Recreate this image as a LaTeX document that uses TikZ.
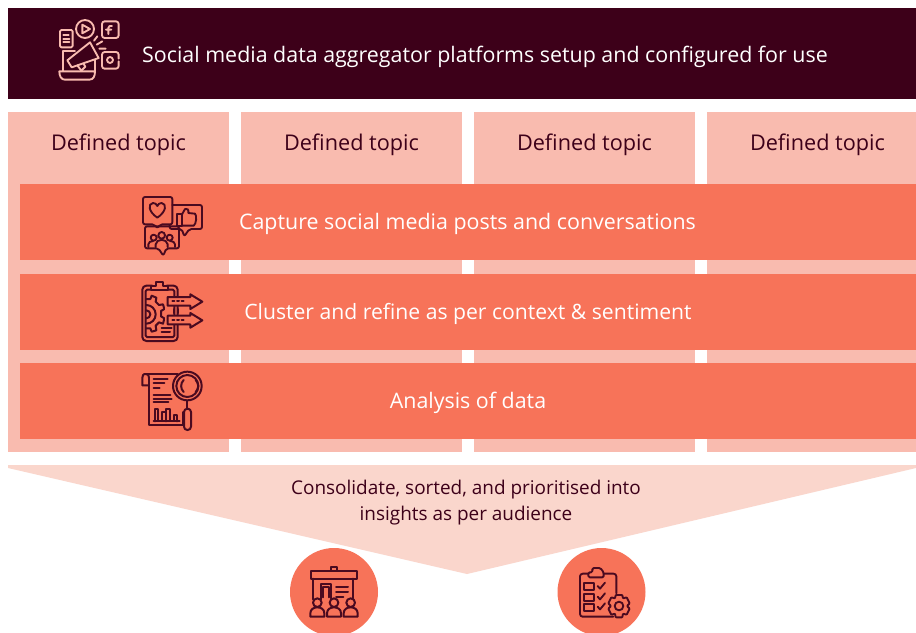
\documentclass[tikz,border=0pt]{standalone}
\usepackage{fontspec}
\setmainfont{Open Sans}
\definecolor{dark}{HTML}{3D0019}
\definecolor{col}{HTML}{F9BBAF}
\definecolor{band}{HTML}{F77359}
\definecolor{pale}{HTML}{FAD6CC}
\definecolor{ink}{HTML}{4A0A20}
\definecolor{peach}{HTML}{F9BBAF}
\tikzset{
 px/.style={x=0.75pt,y=-0.75pt},
 lbl/.style={font=\fontsize{16.25pt}{19pt}\selectfont,inner sep=0pt,anchor=base,text=dark},
 toplbl/.style={font=\fontsize{16.05pt}{19pt}\selectfont,inner sep=0pt,anchor=base,text=white},
 botlbl/.style={font=\fontsize{14.2pt}{19.5pt}\selectfont,inner sep=0pt,align=center,text=dark},
 icon/.style={x=0.25pt,y=-0.25pt,line width=1.4pt,line join=round,line cap=round,draw=ink},
 iconup/.style={icon,draw=peach},
}
\begin{document}
\begin{tikzpicture}[px]
\useasboundingbox (0,0) rectangle (916,632);
\fill[white] (0,0) rectangle (916,632);
\fill[dark] (8,8) rectangle (916,99);
\foreach \a/\b in {8/229,241/462,474/695,707/916}{\fill[col] (\a,112) rectangle (\b,452);}
\foreach \a/\b in {184/260,274/350,363/439}{\fill[band] (20,\a) rectangle (916,\b);}
\fill[pale] (8,465) -- (916,465) -- (916,468) -- (467,574) -- (8,468) -- cycle;
\fill[band] (334,592) circle (44);
\fill[band] (601.5,592) circle (44);
\node[toplbl] (title) at (485,62) {Social media data aggregator platforms setup and configured for use};
\node[lbl] (t1) at (118.5,150) {Defined topic};
\node[lbl] (t2) at (351.5,150) {Defined topic};
\node[lbl] (t3) at (584.5,150) {Defined topic};
\node[lbl] (t4) at (817.5,150) {Defined topic};
\node[toplbl] (b1) at (467.5,229) {Capture social media posts and conversations};
\node[toplbl,font=\fontsize{15.87pt}{19pt}\selectfont] (b2) at (468,319) {Cluster and refine as per context \& sentiment};
\node[toplbl] (b3) at (468,408) {Analysis of data};
\node[botlbl] (cons) at (466,503) {Consolidate, sorted, and prioritised into\\insights as per audience};
% megaphone icon
\begin{scope}[shift={(40,8)},iconup]
\draw[rounded corners=1pt] (60,66) rectangle (98,118);
\draw (70,82)--(86,82) (70,92)--(88,92) (70,102)--(88,102);
\draw (135,63) circle (27);
\draw (127,50)--(150,63)--(127,76)--cycle;
\draw[rounded corners=2pt] (186,40) rectangle (236,90);
\draw (205,78)--(205,60) .. controls (205,54) and (210,53) .. (216,54) (198,65)--(214,65);
\draw[rounded corners=2pt] (236,160)--(236,182)--(186,182)--(186,132)--(236,132)--(236,152);
\draw (210,156) circle (9);
\draw (162,98)--(172,85) (170,110)--(187,100) (178,122)--(197,122);
\draw (105,130)--(70,130)--(70,188) (165,150)--(165,188);
\draw (58,190)--(165,190) .. controls (165,205) and (160,215) .. (148,215)--(75,215) .. controls (64,215) and (58,205) .. (58,190)--cycle;
\draw[fill=dark] (150,103)--(82,157)--(95,178)--(176,150)--cycle;
\draw (112,172)--(124,188)--(136,176)--(130,166);
\end{scope}
% social bubbles
\begin{scope}[shift={(125,185)},icon]
\draw[rounded corners=1.5pt] (54,36)--(142,36)--(142,118)--(106,118)--(97,130)--(88,118)--(54,118)--cycle;
\draw (97,98) .. controls (70,80) and (68,56) .. (84,54) .. controls (90,54) and (95,57) .. (97,63) .. controls (99,57) and (104,54) .. (110,54) .. controls (126,56) and (124,80) .. (97,98)--cycle;
\draw[rounded corners=1.5pt] (142,60)--(231,60)--(231,132)--(193,132)--(178,154)--(170,132)--(134,132)--(134,120);
\draw (155,88) rectangle (170,124);
\draw (170,90) -- (180,72) .. controls (186,68) and (192,74) .. (190,84) -- (210,86) .. controls (216,90) and (214,118) .. (206,122) -- (170,122);
\draw[rounded corners=1.5pt] (60,124)--(162,124)--(162,190)--(124,190)--(115,212)--(100,190)--(60,190)--cycle;
\draw (110,151) circle (10) (86,158) circle (9) (134,158) circle (9);
\draw (92,186)--(92,178) .. controls (94,160) and (126,160) .. (128,178)--(128,186);
\draw (70,186)--(70,178) .. controls (71,172) and (76,168) .. (84,168);
\draw (150,186)--(150,178) .. controls (149,172) and (144,168) .. (136,168);
\end{scope}
% clipboard arrows
\begin{scope}[shift={(125,275)},icon,line width=1.5pt]
\draw[rounded corners=3pt] (125,32)--(158,32)--(158,198)--(52,198)--(52,32)--(82,32);
\draw[rounded corners=1pt] (62,44)--(148,44)--(148,186)--(62,186)--cycle;
\draw[fill=band] (78,44)--(78,34)--(92,34)--(92,22)--(114,22)--(114,34)--(128,34)--(128,44)--cycle;
\draw (64,72)--(76,72)--(80,62)--(94,68)--(92,80)--(102,90)--(114,88)--(118,102)--(108,108)--(108,124)--(118,130)--(114,146)--(102,142)--(92,152)--(94,166)--(80,170)--(76,160)--(64,160);
\draw (64,90) arc (-90:90:28);
\draw (64,106) arc (-90:90:12);
\draw[fill=band,draw=band] (122,62) rectangle (130,155);
\draw[fill=band] (128,66)--(196,66)--(196,58)--(232,80)--(196,102)--(196,92)--(128,92)--cycle;
\draw[fill=band] (128,122)--(196,122)--(196,114)--(232,136)--(196,158)--(196,148)--(128,148)--cycle;
\foreach \y in {79,135}{\draw (142,\y)--(148,\y) (156,\y)--(162,\y) (170,\y)--(176,\y);}
\draw (148,102)--(148,114) (158,102)--(158,114);
\draw (110,158)--(140,158) (110,172)--(135,172);
\end{scope}
% report magnifier
\begin{scope}[shift={(125,362)},icon,line width=1.5pt]
\draw (64,36) .. controls (54,34) and (52,42) .. (52,48)--(52,70)--(72,70);
\draw (64,36) .. controls (70,36) and (72,42) .. (72,48);
\draw (64,36)--(158,36);
\draw (72,48)--(72,190)--(175,190)--(175,150);
\draw (86,52)--(128,52) (86,64)--(118,64) (86,78)--(104,78) (86,100)--(136,100) (86,110)--(140,110) (86,120)--(130,120);
\draw (90,178)--(90,140)--(100,140)--(100,178)--(112,178)--(112,150)--(122,150) (122,178)--(122,142)--(134,142)--(134,178)--(146,178)--(146,158)--(156,158)--(156,178) (86,178)--(164,178);
\draw[fill=band] (187,72) circle (43);
\draw (187,72) circle (33);
\draw (176,54) .. controls (166,64) and (166,80) .. (176,90);
\draw (212,54) .. controls (222,64) and (222,80) .. (212,90);
\draw (187,115)--(187,140);
\draw[rounded corners=2.5pt,fill=band] (177,140) rectangle (198,204);
\end{scope}
% building people
\begin{scope}[shift={(280,540)},icon,line width=1.5pt]
\draw (152,92)--(152,80)--(172,80)--(172,92);
\draw (93,94) rectangle (230,116);
\draw (100,116)--(100,178) (220,116)--(220,175);
\draw (122,178)--(122,132)--(154,132)--(154,175) (130,172)--(130,140)--(146,140)--(146,172);
\draw (168,142)--(204,142) (168,156)--(204,156) (168,170)--(190,170);
\foreach \c in {112,162,212}{
 \draw[fill=band] (\c,188) circle (13);
 \draw[fill=band] (\c-21,230)--(\c-21,220) .. controls (\c-21,207) and (\c-10,202) .. (\c,202) .. controls (\c+10,202) and (\c+21,207) .. (\c+21,220)--(\c+21,230)--cycle;
}
\end{scope}
% checklist gear
\begin{scope}[shift={(545,540)},icon,line width=1.4pt]
\draw[rounded corners=2pt] (130,101)--(105,101)--(105,230)--(205,230);
\draw[rounded corners=2pt] (176,101)--(214,101)--(214,160);
\draw[rounded corners=1pt] (130,112)--(130,97)--(142,97)--(142,84)--(166,84)--(176,97)--(176,112)--cycle;
\draw (118,130) rectangle (148,150) (118,162) rectangle (148,182) (118,192) rectangle (148,212);
\draw (158,138)--(165,146)--(180,128) (158,170)--(165,178)--(180,160) (158,200)--(165,208)--(180,190);
\draw[fill=band,rounded corners=0.5pt] (212,165)--(232,165)--(234,175)--(245,172)--(254,190)--(246,198)--(254,206)--(245,224)--(234,221)--(232,232)--(212,232)--(210,221)--(199,224)--(190,206)--(198,198)--(190,190)--(199,172)--(210,175)--cycle;
\draw (222,198) circle (13);
\end{scope}
\end{tikzpicture}
\end{document}
